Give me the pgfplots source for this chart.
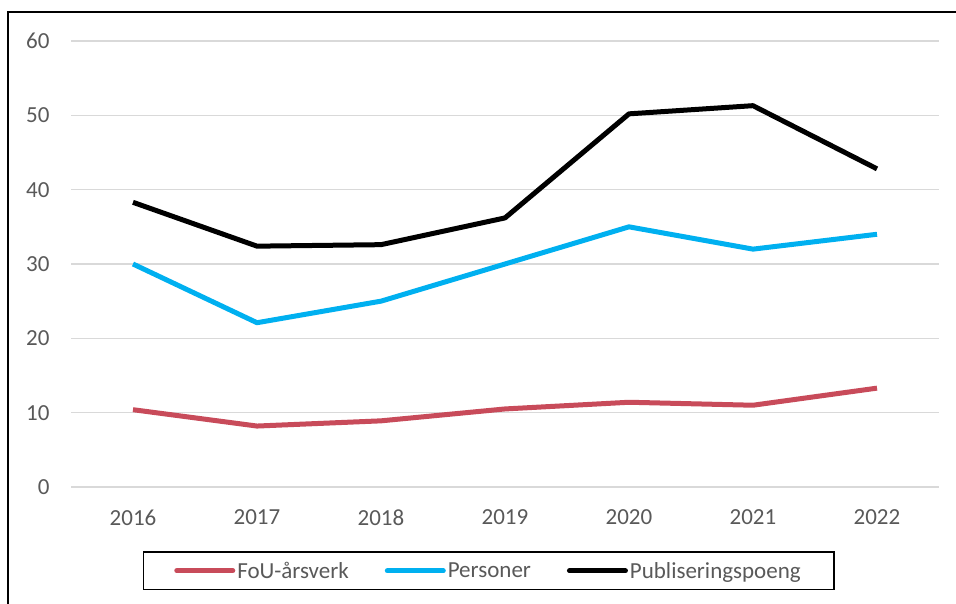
\documentclass[border=0pt]{standalone}
\usepackage{pgfplots}
\pgfplotsset{compat=1.18}
\usepackage{fontspec}
\setmainfont{Carlito}
\definecolor{fou}{RGB}{200,75,90}
\definecolor{pers}{RGB}{0,176,240}
\definecolor{lbl}{RGB}{89,89,89}
\definecolor{grd}{RGB}{217,217,217}
\begin{document}
\begin{tikzpicture}
\path[use as bounding box] (0,0) rectangle (956bp,604bp);
\draw[line width=1.5bp] (8bp,0) -- (8bp,592bp) -- (956bp,592bp);
\begin{axis}[
  at={(71bp,117bp)}, anchor=south west,
  scale only axis, width=868bp, height=446bp,
  xmin=2015.5, xmax=2022.5, ymin=0, ymax=60,
  xtick={2016,...,2022}, ytick={0,10,...,60},
  xticklabels={2016,2017,2018,2019,2020,2021,2022},
  axis line style={draw=none},
  major tick length=0pt,
  ymajorgrids, grid style={grd, line width=1.5bp},
  /pgf/number format/assume math mode=true,
  tick label style={font=\fontsize{23bp}{27bp}\selectfont, text=lbl},
  yticklabel style={xshift=-18bp},
  xticklabel style={yshift=-19bp},
  legend columns=3,
  legend style={at={(0.481,-0.188)}, anchor=center, draw=black, line width=1.5bp,
    font=\fontsize{23bp}{27bp}\selectfont, text=lbl, inner xsep=31bp, inner ysep=8bp,
    /tikz/every even column/.append style={column sep=34bp}},
  legend cell align=left,
  legend image code/.code={\draw[#1, line cap=round] (0bp,0bp) -- (56bp,0bp);},
  every axis plot/.append style={line width=5bp, line join=round},
]
\addplot[fou] coordinates {(2016,10.4) (2017,8.2) (2018,8.9) (2019,10.5) (2020,11.4) (2021,11.0) (2022,13.3)};
\addlegendentry{FoU-årsverk}
\addplot[pers] coordinates {(2016,30.0) (2017,22.1) (2018,25.0) (2019,30.0) (2020,35.0) (2021,32.0) (2022,34.0)};
\addlegendentry{Personer}
\addplot[black] coordinates {(2016,38.3) (2017,32.4) (2018,32.6) (2019,36.2) (2020,50.2) (2021,51.3) (2022,42.8)};
\addlegendentry{Publiseringspoeng}
\end{axis}
\end{tikzpicture}
\end{document}
